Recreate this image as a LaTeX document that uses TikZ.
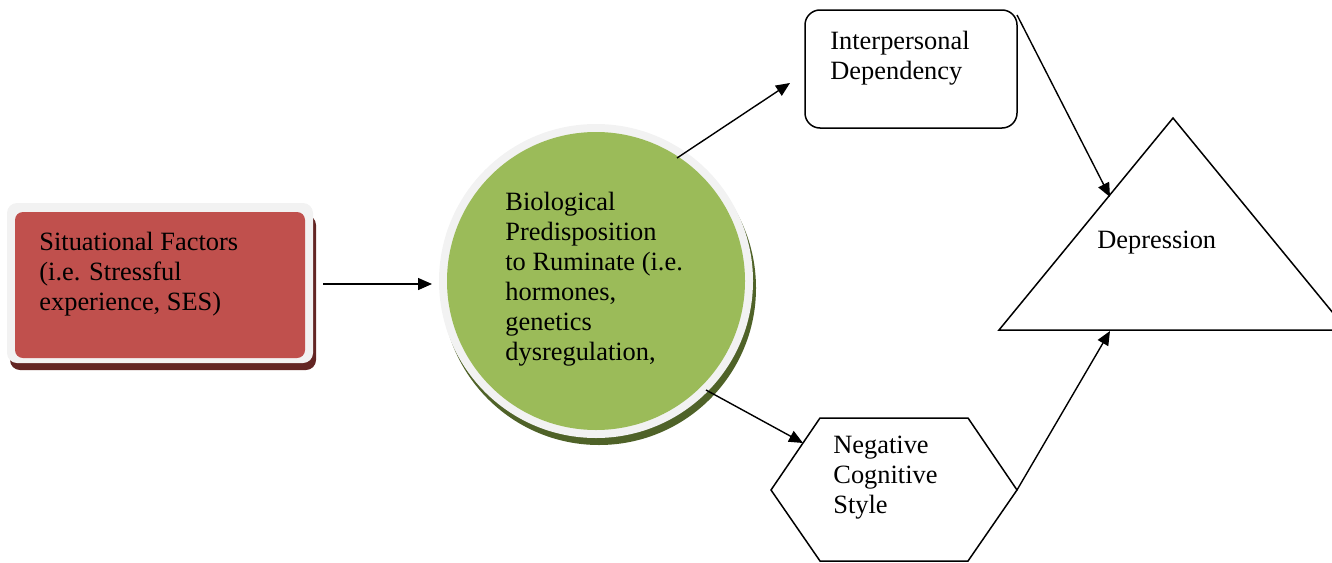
\documentclass[tikz,border=0pt]{standalone}
\usepackage{fontspec}
\setmainfont{Liberation Serif}
\usetikzlibrary{arrows.meta}
\definecolor{sitred}{RGB}{192,80,77}
\definecolor{sitshade}{RGB}{99,37,35}
\definecolor{biogreen}{RGB}{155,187,89}
\definecolor{bioshade}{RGB}{79,98,40}
\definecolor{rim}{RGB}{242,242,242}

\begin{document}
\begin{tikzpicture}[
  x=0.5pt,y=-0.5pt,
  font=\fontsize{13.2pt}{15pt}\selectfont,
  >={Triangle[length=7pt,width=6pt]},
  caption/.style={anchor=north west,align=left,inner sep=0pt},
  link/.style={->,line width=0.7pt},
  outline/.style={draw=black,line width=0.75pt}
]
\useasboundingbox (0,0) rectangle (1332,562);

\fill[sitshade,rounded corners=5pt] (10,215) rectangle (316,370);
\fill[rim,rounded corners=5pt] (7,203) rectangle (313,363);
\fill[sitred,rounded corners=4pt] (15,212) rectangle (305,358);
\node[caption] (sit) at (39,232)
  {Situational Factors\\(i.e. Stressful\\experience, SES)};

\fill[bioshade] (599,288) circle (157);
\fill[rim] (596,281) circle (157);
\fill[biogreen] (596,281) circle (149);
\node[caption] (bio) at (505,192)
  {Biological\\Predisposition\\to Ruminate (i.e.\\hormones,\\genetics\\dysregulation,};

\draw[outline,rounded corners=7.5pt] (805,10) rectangle (1017,128);
\node[caption] (inter) at (830,31) {Interpersonal\\Dependency};

\draw[outline] (820,418) -- (968,418) -- (1017,490) coordinate (hexR)
  -- (968,561) -- (820,561) -- (771,490) -- cycle;
\node[caption] (neg) at (833,436) {Negative\\Cognitive\\Style};

\draw[outline] (1173,118) -- (1347,330) -- (999,330) -- cycle;
\node[caption] (depr) at (1097,231) {Depression};

\coordinate (sitout) at (323,284);
\coordinate (bioin) at (432,284);
\coordinate (bioup) at (677,158);
\coordinate (interin) at (790,83);
\coordinate (biodown) at (706,390);
\coordinate (negin) at (803,443);
\coordinate (interout) at (1017,15);
\coordinate (deprup) at (1110,197);
\coordinate (deprlow) at (1110,331);

\foreach \from/\to in {sitout/bioin,bioup/interin,biodown/negin,
  interout/deprup,hexR/deprlow}
  \draw[link] (\from) -- (\to);
\end{tikzpicture}
\end{document}
